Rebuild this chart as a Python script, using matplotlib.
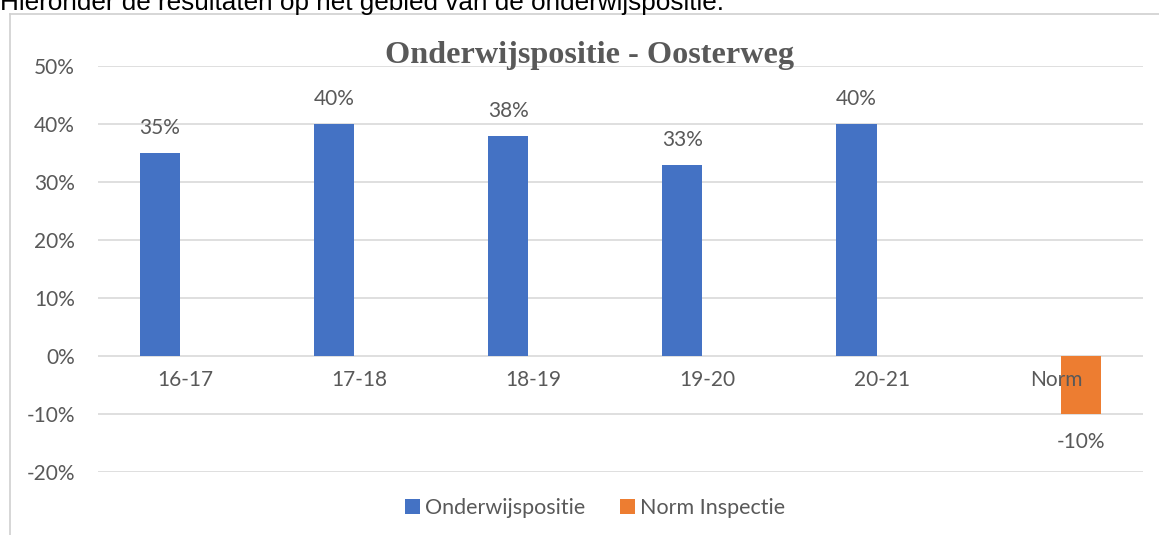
import numpy as np
import matplotlib
matplotlib.use("Agg")
import matplotlib.pyplot as plt
from matplotlib.lines import Line2D

# --- data ---
categories = ["16-17", "17-18", "18-19", "19-20", "20-21", "Norm"]
onderwijs = [35, 40, 38, 33, 40, np.nan]
norm = [np.nan, np.nan, np.nan, np.nan, np.nan, -10]
yticks = [-20, -10, 0, 10, 20, 30, 40, 50]

BLUE = "#4472c4"
ORANGE = "#ed7d31"
GREY = "#595959"
GRID = "#d9d9d9"
FONT = "Lato"
FS = 15

W, H = 1159, 535
fig = plt.figure(figsize=(W / 100, H / 100), dpi=100)

# surrounding chart frame (left + top edge)
fig.add_artist(Line2D([9.5 / W, 9.5 / W], [0, 1 - 14 / H], color="#d0d0d0", lw=1.2))
fig.add_artist(Line2D([9.5 / W, 1], [1 - 14 / H, 1 - 14 / H], color="#d0d0d0", lw=1.2))

# cut-off sentence above the chart
fig.text(0, 1 - 10 / H, "Hieronder de resultaten op het gebied van de onderwijspositie.",
         fontsize=18.8, family="Liberation Sans", color="black", va="baseline", ha="left")

ax = fig.add_axes([98 / W, (H - 472) / H, (1143 - 98) / W, (472 - 66) / H])
x = np.arange(len(categories))
width = 0.23
off = 0.145
b1 = ax.bar(x - off, onderwijs, width, color=BLUE, label="Onderwijspositie", zorder=3)
b2 = ax.bar(x + off, norm, width, color=ORANGE, label="Norm Inspectie", zorder=3)

ax.set_xlim(-0.5, len(categories) - 0.5)
ax.set_ylim(-20, 50)
ax.set_yticks(yticks)
ax.set_yticklabels([f"{v}%" for v in yticks], fontsize=FS, color=GREY, family=FONT)
ax.tick_params(axis="y", length=0, pad=16.5)
ax.set_xticks([])
for s in ax.spines.values():
    s.set_visible(False)
for v in yticks:
    ax.axhline(v, color=GRID, lw=1.2, zorder=1)

# category labels sit next to the 0% line
for i, c in enumerate(categories):
    ax.annotate(c, (i, 0), xytext=(0, -17.5), textcoords="offset points",
                ha="center", va="center", fontsize=FS, color=GREY, family=FONT, zorder=4)

# data labels
for xi, v in zip(x - off, onderwijs):
    if not np.isnan(v):
        ax.annotate(f"{v:.0f}%", (xi, v), xytext=(0, 18), textcoords="offset points",
                    ha="center", va="center", fontsize=FS, color=GREY, family=FONT)
for xi, v in zip(x + off, norm):
    if not np.isnan(v):
        ax.annotate(f"{v:.0f}%", (xi, v), xytext=(0, -20.5), textcoords="offset points",
                    ha="center", va="center", fontsize=FS, color=GREY, family=FONT)

fig.text(590 / W, 1 - 63 / H, "Onderwijspositie - Oosterweg", ha="center", va="baseline",
         fontsize=23.2, fontweight="bold", family="Liberation Serif", color=GREY)

leg = fig.legend(handles=[b1, b2], loc="center", bbox_to_anchor=(595 / W, 1 - 508 / H),
                 ncol=2, frameon=False, handlelength=0.7, handleheight=0.7,
                 handletextpad=0.25, columnspacing=1.6,
                 prop={"family": FONT, "size": FS + 0.5})
for t in leg.get_texts():
    t.set_color(GREY)

fig.savefig("out.png", dpi=100)
